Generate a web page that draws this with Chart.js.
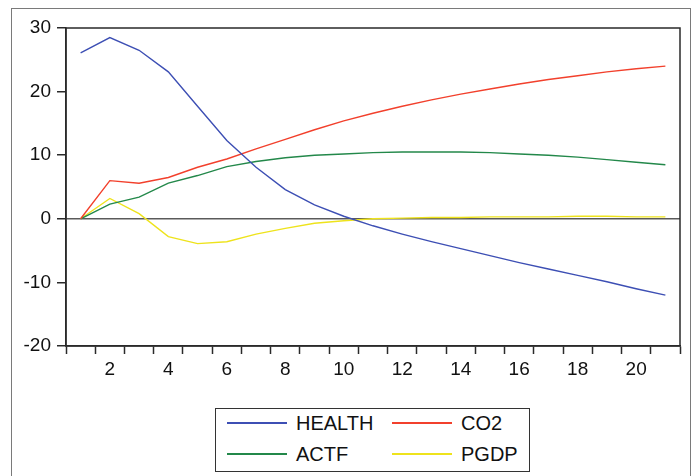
<!DOCTYPE html>
<html>
<head>
<meta charset="utf-8">
<script src="https://cdn.jsdelivr.net/npm/chart.js@4.4.1/dist/chart.umd.min.js"></script>
<style>
  html, body { margin: 0; padding: 0; background: #fff; }
  body { width: 696px; height: 476px; position: relative; overflow: hidden; font-family: "Liberation Sans", Arial, sans-serif; }
  #frame { position: absolute; left: 11px; top: 8px; width: 678px; height: 480px; border: 1.5px solid #7a7a7a; }
  #wrap { position: absolute; left: 0; top: 0; width: 696px; height: 380px; }
  #legend { position: absolute; left: 215px; top: 408px; width: 313px; height: 62px; border: 1.5px solid #333; }
  .item { position: absolute; height: 22px; line-height: 22px; font-size: 20px; color: #111; }
  .item span { position: absolute; left: 0; top: 10px; width: 60px; height: 1.5px; }
  .item b { position: absolute; left: 69px; top: 0; font-weight: normal; white-space: nowrap; }
</style>
</head>
<body>
<div id="frame"></div>
<div id="wrap"><canvas id="c"></canvas></div>
<div id="legend"></div>
<script>
  const periods = ['1','2','3','4','5','6','7','8','9','10','11','12','13','14','15','16','17','18','19','20','21'];
  const health = [26.1, 28.5, 26.5, 23.1, 17.7, 12.3, 8.1, 4.6, 2.2, 0.4, -1.1, -2.4, -3.6, -4.7, -5.8, -6.9, -7.9, -8.9, -9.9, -11.0, -12.0];
  const co2 = [0, 6.0, 5.6, 6.5, 8.1, 9.4, 11.0, 12.5, 14.0, 15.4, 16.6, 17.7, 18.7, 19.6, 20.4, 21.2, 21.9, 22.5, 23.1, 23.6, 24.0];
  const actf = [0, 2.3, 3.4, 5.6, 6.8, 8.2, 9.0, 9.6, 10.0, 10.2, 10.4, 10.5, 10.5, 10.5, 10.4, 10.2, 10.0, 9.7, 9.3, 8.9, 8.5];
  const pgdp = [0, 3.2, 0.8, -2.8, -3.9, -3.6, -2.4, -1.5, -0.7, -0.3, 0.0, 0.1, 0.2, 0.2, 0.3, 0.3, 0.3, 0.4, 0.4, 0.3, 0.3];
  const yTicks = [-20, -10, 0, 10, 20, 30];

  const series = [
    { label: 'HEALTH', data: health, color: '#3d4fb4' },
    { label: 'CO2', data: co2, color: '#f2402c' },
    { label: 'ACTF', data: actf, color: '#23884a' },
    { label: 'PGDP', data: pgdp, color: '#eee31c' }
  ];

  const font = { family: '"Liberation Sans", Arial, sans-serif', size: 19 };

  // box around the plot area (top and right sides)
  const plotFrame = {
    id: 'plotFrame',
    afterDraw(chart) {
      const a = chart.chartArea, ctx = chart.ctx;
      ctx.save();
      ctx.strokeStyle = '#2a2a2a';
      ctx.lineWidth = 1.5;
      ctx.strokeRect(a.left, a.top, a.right - a.left, a.bottom - a.top);
      ctx.restore();
    }
  };

  new Chart(document.getElementById('c'), {
    type: 'line',
    data: {
      labels: periods,
      datasets: series.map((s) => ({
        label: s.label,
        data: s.data,
        borderColor: s.color,
        borderWidth: 1.4,
        pointRadius: 0,
        tension: 0,
        fill: false
      }))
    },
    options: {
      responsive: true,
      maintainAspectRatio: false,
      animation: false,
      layout: { padding: { top: 28, right: 16, left: 0, bottom: 0 } },
      plugins: { legend: { display: false }, tooltip: { enabled: false } },
      scales: {
        x: {
          type: 'category',
          offset: true,
          afterFit: (s) => { s.height = 34; },
          grid: { offset: true, drawOnChartArea: false, drawTicks: true, tickLength: 8, tickColor: '#2a2a2a', tickWidth: 1.5 },
          border: { display: true, color: '#2a2a2a', width: 1.5 },
          ticks: {
            autoSkip: false,
            maxRotation: 0,
            padding: 4,
            color: '#111',
            font,
            callback: (v, i) => ((i + 1) % 2 === 0 ? periods[i] : '')
          }
        },
        y: {
          min: -20,
          max: 30,
          afterFit: (s) => { s.width = 66; },
          afterBuildTicks: (s) => { s.ticks = yTicks.map((v) => ({ value: v })); },
          grid: {
            drawOnChartArea: true,
            tickLength: 9,
            tickColor: '#2a2a2a',
            tickWidth: 1.5,
            lineWidth: 1.5,
            color: (ctx) => (ctx.tick && ctx.tick.value === 0 ? '#5a5a5a' : 'rgba(0,0,0,0)')
          },
          border: { display: true, color: '#2a2a2a', width: 1.5 },
          ticks: { padding: 6, color: '#111', font }
        }
      }
    },
    plugins: [plotFrame]
  });

  // legend box, two columns
  const legend = document.getElementById('legend');
  const pos = [[11, 3], [176, 3], [11, 34], [176, 34]];
  series.forEach((s, i) => {
    const el = document.createElement('div');
    el.className = 'item';
    el.style.left = pos[i][0] + 'px';
    el.style.top = pos[i][1] + 'px';
    el.innerHTML = `<span style="background-color:${s.color}"></span><b>${s.label}</b>`;
    legend.appendChild(el);
  });
</script>
</body>
</html>
